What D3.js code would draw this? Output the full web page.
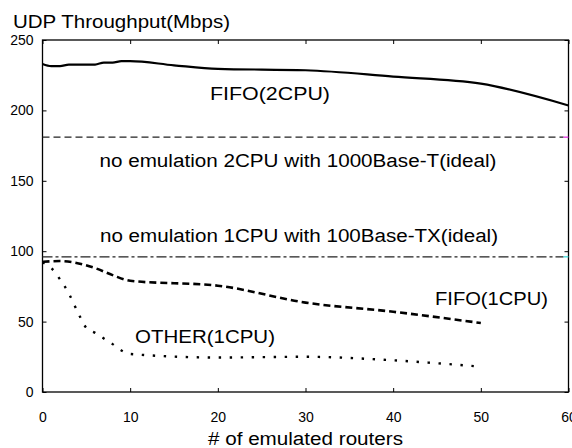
<!DOCTYPE html>
<html>
<head>
<meta charset="utf-8">
<script src="https://cdn.jsdelivr.net/npm/d3@7"></script>
<style>
  body { margin: 0; background: #fff; }
  text { font-family: "Liberation Sans", Arial, sans-serif; fill: #000; }
</style>
</head>
<body>
<div id="chart"></div>
<script>
// data
var xTicks = [0, 10, 20, 30, 40, 50, 60];
var yTicks = [0, 50, 100, 150, 200, 250];

var fifo2cpuX = [0, 1, 2, 3, 4, 5, 6, 7, 8, 9, 10, 15, 20, 30, 40, 50, 60];
var fifo2cpuY = [233, 231.5, 231.5, 232.5, 232.5, 232.5, 232.5, 234, 234, 235, 235, 232, 229.5, 228.5, 224, 219, 203.5];

var fifo1cpuX = [0, 2, 4, 6, 8, 10, 20, 30, 40, 50];
var fifo1cpuY = [92.5, 93, 91.5, 88, 83, 79, 75.5, 63.5, 57, 49];

var other1cpuX = [0, 1, 2, 3, 4, 5, 6, 7, 8, 9, 10, 20, 30, 40, 50];
var other1cpuY = [92, 88, 80, 70, 57, 45.5, 42, 38, 34, 29.5, 27, 24.5, 25, 22.5, 18];

var ideal2cpu = 181;
var ideal1cpu = 96;

var svgWidth = 572;
var svgHeight = 448;

var svg = d3.select("#chart")
  .append("svg")
  .attr("width", svgWidth)
  .attr("height", svgHeight);

var xScale = d3.scaleLinear().domain([0, 60]).range([42.5, 568.5]);
var yScale = d3.scaleLinear().domain([0, 250]).range([392, 40]);

// inward ticks on all four sides
svg.append("g")
  .attr("transform", "translate(0, 392)")
  .call(d3.axisBottom(xScale).tickValues(xTicks).tickSize(-4).tickSizeOuter(0).tickPadding(20))
  .call(g => g.select(".domain").remove())
  .call(g => g.selectAll("text").attr("font-size", 14).attr("font-family", "Liberation Sans, Arial, sans-serif"));

svg.append("g")
  .attr("transform", "translate(0, 40)")
  .call(d3.axisTop(xScale).tickValues(xTicks).tickSize(-4).tickSizeOuter(0).tickFormat(""))
  .call(g => g.select(".domain").remove());

svg.append("g")
  .attr("transform", "translate(42.5, 0)")
  .call(d3.axisLeft(yScale).tickValues(yTicks).tickSize(-4).tickSizeOuter(0).tickPadding(9))
  .call(g => g.select(".domain").remove())
  .call(g => g.selectAll("text").attr("font-size", 14).attr("font-family", "Liberation Sans, Arial, sans-serif"));

svg.append("g")
  .attr("transform", "translate(568.5, 0)")
  .call(d3.axisRight(yScale).tickValues(yTicks).tickSize(-4).tickSizeOuter(0).tickFormat(""))
  .call(g => g.select(".domain").remove());

svg.selectAll(".tick line").attr("stroke", "#000");

// plot frame
svg.append("rect")
  .attr("x", xScale(0))
  .attr("y", yScale(250))
  .attr("width", xScale(60) - xScale(0))
  .attr("height", yScale(0) - yScale(250))
  .attr("fill", "none")
  .attr("stroke", "#000")
  .attr("stroke-width", 1.3);

// ideal reference lines
svg.append("line")
  .attr("x1", xScale(0)).attr("x2", xScale(60) - 5)
  .attr("y1", yScale(ideal2cpu)).attr("y2", yScale(ideal2cpu))
  .attr("stroke", "#222").attr("stroke-width", 1.1)
  .attr("stroke-dasharray", "7,4");

svg.append("line")
  .attr("x1", xScale(60) - 5).attr("x2", xScale(60))
  .attr("y1", yScale(ideal2cpu)).attr("y2", yScale(ideal2cpu))
  .attr("stroke", "#e020e0").attr("stroke-width", 1.2);

svg.append("line")
  .attr("x1", xScale(0)).attr("x2", xScale(60) - 5)
  .attr("y1", yScale(ideal1cpu)).attr("y2", yScale(ideal1cpu))
  .attr("stroke", "#222").attr("stroke-width", 1.1)
  .attr("stroke-dasharray", "10,3,3,3");

svg.append("line")
  .attr("x1", xScale(60) - 5).attr("x2", xScale(60))
  .attr("y1", yScale(ideal1cpu)).attr("y2", yScale(ideal1cpu))
  .attr("stroke", "#30d8d8").attr("stroke-width", 1.2);

// measured series
var line = d3.line()
  .x(d => xScale(d[0]))
  .y(d => yScale(d[1]))
  .curve(d3.curveMonotoneX);

svg.append("path")
  .datum(d3.zip(fifo2cpuX, fifo2cpuY))
  .attr("d", line)
  .attr("fill", "none")
  .attr("stroke", "#000")
  .attr("stroke-width", 2.2);

svg.append("path")
  .datum(d3.zip(fifo1cpuX, fifo1cpuY))
  .attr("d", line)
  .attr("fill", "none")
  .attr("stroke", "#000")
  .attr("stroke-width", 2.6)
  .attr("stroke-dasharray", "7,4");

svg.append("path")
  .datum(d3.zip(other1cpuX, other1cpuY))
  .attr("d", line)
  .attr("fill", "none")
  .attr("stroke", "#000")
  .attr("stroke-width", 2.4)
  .attr("stroke-dasharray", "2.4,8.6");

// text labels
function addLabel(x, y, str, width, size) {
  svg.append("text")
    .attr("x", x)
    .attr("y", y)
    .attr("font-size", size)
    .attr("textLength", width)
    .attr("lengthAdjust", "spacingAndGlyphs")
    .text(str);
}

addLabel(13, 28, "UDP Throughput(Mbps)", 217, 18);
addLabel(210, 100, "FIFO(2CPU)", 120, 18);
addLabel(99.5, 167, "no emulation 2CPU with 1000Base-T(ideal)", 397, 18);
addLabel(100, 242, "no emulation 1CPU with 100Base-TX(ideal)", 398, 18);
addLabel(435, 305, "FIFO(1CPU)", 113, 18);
addLabel(135, 343, "OTHER(1CPU)", 140, 18);
addLabel(208, 445, "# of emulated routers", 195, 18);
</script>
</body>
</html>
